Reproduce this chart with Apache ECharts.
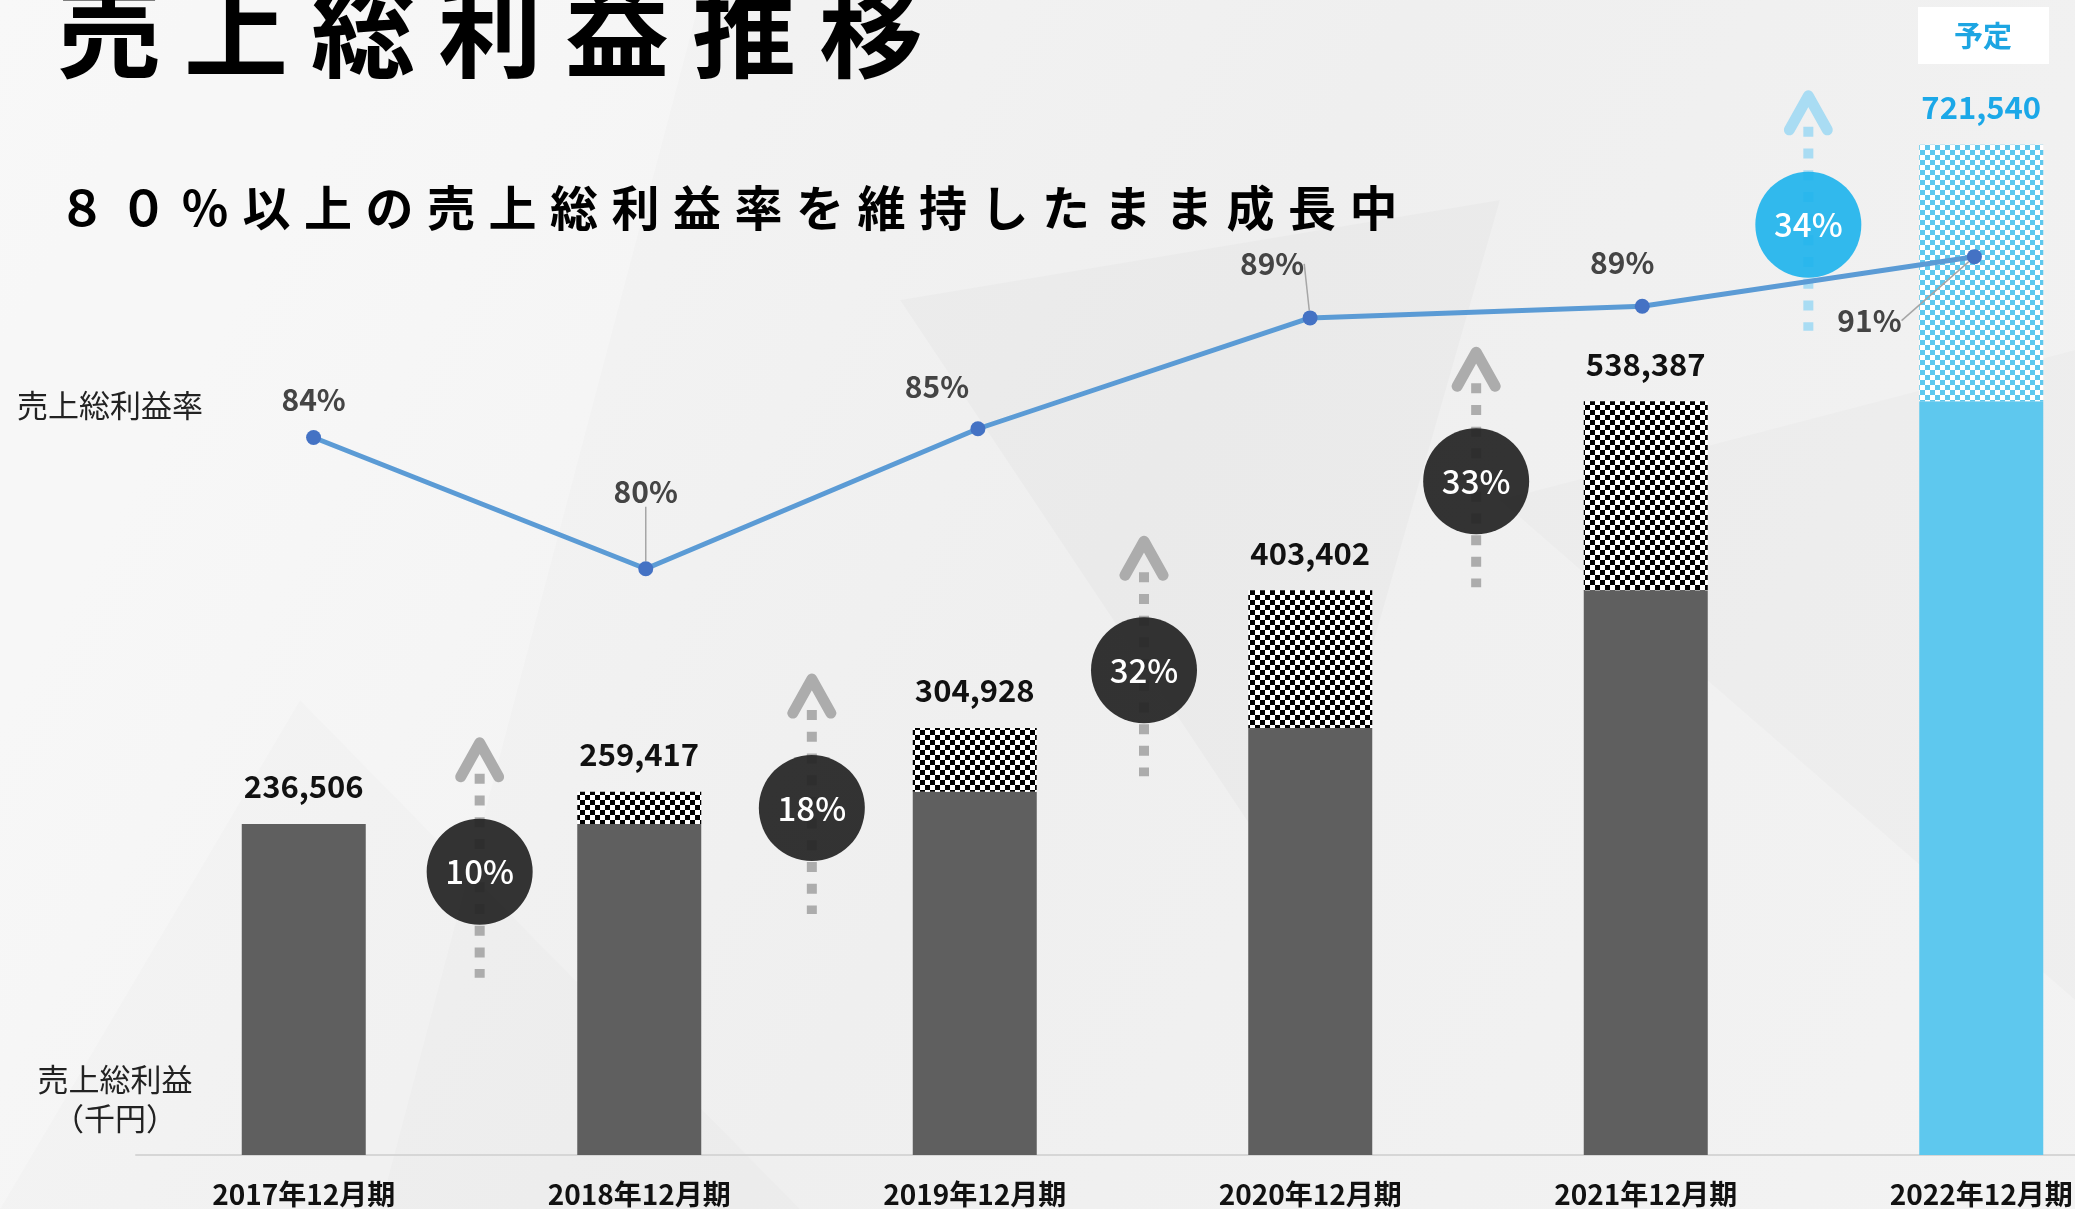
<!DOCTYPE html>
<html>
<head>
<meta charset="utf-8">
<script src="https://cdn.jsdelivr.net/npm/echarts@6/dist/echarts.min.js"></script>
<style>
  html, body { margin: 0; padding: 0; background: #f1f1f1; overflow: hidden; }
  /* 最終年度の棒が右端で切れるので、描画領域を画面より少し広く取る */
  #chart { width: 2150px; height: 1209px; }
</style>
</head>
<body>
<div id="chart"></div>
<script>
// データ
var periods = ['2017年12月期', '2018年12月期', '2019年12月期', '2020年12月期', '2021年12月期', '2022年12月期'];
var grossProfit = [236506, 259417, 304928, 403402, 538387, 721540]; // 売上総利益（千円）
var grossMargin = [84.4, 79.9, 84.7, 88.5, 88.9, 90.6];             // 売上総利益率（%）
var isForecast = [false, false, false, false, false, true];          // 予定

var FONT = '"Noto Sans CJK JP", "Noto Sans", sans-serif';

// 前年分（ベタ）と増加分（チェック柄）に分ける
var baseVals = grossProfit.map(function (v, i) { return i === 0 ? v : grossProfit[i - 1]; });
var incVals = grossProfit.map(function (v, i) { return v - baseVals[i]; });
// 前年比成長率
var growth = grossProfit.slice(1).map(function (v, i) {
    return Math.round((v / grossProfit[i] - 1) * 100);
});

function checker(c1, c2, cell) {
    var cv = document.createElement('canvas');
    cv.width = cv.height = cell * 2;
    var ctx = cv.getContext('2d');
    ctx.fillStyle = c2;
    ctx.fillRect(0, 0, cell * 2, cell * 2);
    ctx.fillStyle = c1;
    ctx.fillRect(0, 0, cell, cell);
    ctx.fillRect(cell, cell, cell, cell);
    return { image: cv, repeat: 'repeat' };
}
var blackChecker = checker('#000000', '#ffffff', 5);
var blueChecker = checker('#5ec8ee', '#ffffff', 5);

var myChart = echarts.init(document.getElementById('chart'));

// タイトル類
var graphics = [
    { type: 'polygon', z: -10, shape: { points: [[0, 0], [700, 0], [380, 1209], [0, 1209]] }, style: { fill: 'rgba(255,255,255,0.25)' } },
    { type: 'polygon', z: -10, shape: { points: [[900, 300], [1500, 200], [1300, 900]] }, style: { fill: 'rgba(0,0,0,0.018)' } },
    { type: 'polygon', z: -10, shape: { points: [[1500, 500], [2075, 350], [2075, 1000]] }, style: { fill: 'rgba(0,0,0,0.015)' } },
    { type: 'polygon', z: -10, shape: { points: [[300, 700], [800, 1209], [0, 1209]] }, style: { fill: 'rgba(0,0,0,0.012)' } }
];
var title = '売上総利益推移';
for (var i = 0; i < title.length; i++) {
    graphics.push({
        type: 'text', z: 10,
        style: { text: title[i], x: 109 + i * 127, y: 30, align: 'center', verticalAlign: 'middle',
                 font: 'bold 104px ' + FONT, fill: '#000' }
    });
}
var sub = '８０％以上の売上総利益率を維持したまま成長中';
for (var j = 0; j < sub.length; j++) {
    graphics.push({
        type: 'text', z: 10,
        style: { text: sub[j], x: 82 + j * 61.5, y: 208, align: 'center', verticalAlign: 'middle',
                 font: 'bold 48px ' + FONT, fill: '#000' }
    });
}
graphics.push(
    { type: 'text', z: 10, style: { text: '売上総利益率', x: 110, y: 405, align: 'center', verticalAlign: 'middle', font: '31px ' + FONT, fill: '#222' } },
    { type: 'text', z: 10, style: { text: '売上総利益', x: 115, y: 1079, align: 'center', verticalAlign: 'middle', font: '31px ' + FONT, fill: '#222' } },
    { type: 'text', z: 10, style: { text: '（千円）', x: 115, y: 1118, align: 'center', verticalAlign: 'middle', font: '31px ' + FONT, fill: '#222' } },
    { type: 'rect', z: 10, shape: { x: 1918, y: 7, width: 131, height: 57 }, style: { fill: '#ffffff' } },
    { type: 'text', z: 11, style: { text: '予定', x: 1983, y: 36, align: 'center', verticalAlign: 'middle', font: 'bold 29px ' + FONT, fill: '#1da5e2' } }
);

// 各ラベルの位置調整（点からのずれ）
var marginLabelOffset = [[0, -38], [0, -77], [-41, -42], [-38, -54], [-20, -44], [-105, 64]];
var marginLeader = [false, true, false, true, false, true];

var option = {
    backgroundColor: {
        type: 'linear', x: 0, y: 0, x2: 1, y2: 1,
        colorStops: [{ offset: 0, color: '#f6f6f6' }, { offset: 0.5, color: '#efefef' }, { offset: 1, color: '#f3f3f3' }]
    },
    animation: false,
    graphic: graphics,
    grid: [
        { left: 136, top: 105, bottom: 54, right: 1 },
        { left: 147.5, top: 105, bottom: 54, right: 9.5 }
    ],
    xAxis: [
        {
            type: 'category', gridIndex: 0, data: periods,
            axisLine: { lineStyle: { color: '#d6d6d6', width: 2 } },
            axisTick: { show: false },
            axisLabel: { margin: 25, fontSize: 28, fontWeight: 'bold', color: '#111', fontFamily: FONT }
        },
        { type: 'category', gridIndex: 1, data: periods, show: false }
    ],
    yAxis: [
        { type: 'value', gridIndex: 0, min: 0, max: 750000, show: false, splitLine: { show: false } },
        { type: 'value', gridIndex: 1, min: 59.8, max: 95.8, show: false, splitLine: { show: false } },
        { type: 'value', gridIndex: 1, min: 0, max: 750000, show: false, splitLine: { show: false } }
    ],
    series: [
        {
            name: '前年分',
            type: 'bar', xAxisIndex: 0, yAxisIndex: 0, stack: 'gp', barWidth: 124,
            data: baseVals.map(function (v, i) {
                return { value: v, itemStyle: { color: isForecast[i] ? '#5ec8ee' : '#5f5f5f' } };
            })
        },
        {
            name: '売上総利益',
            type: 'bar', xAxisIndex: 0, yAxisIndex: 0, stack: 'gp', barWidth: 124,
            data: incVals.map(function (v, i) {
                return {
                    value: v,
                    itemStyle: { color: isForecast[i] ? blueChecker : blackChecker },
                    label: { color: isForecast[i] ? '#1ba8e8' : '#111' }
                };
            }),
            label: {
                show: true, position: 'top', distance: 22,
                fontSize: 31, fontWeight: 'bold', fontFamily: FONT,
                formatter: function (p) { return grossProfit[p.dataIndex].toLocaleString('en-US'); }
            }
        },
        {
            name: '成長率',
            type: 'custom', xAxisIndex: 1, yAxisIndex: 2, clip: false, z: 5,
            data: growth.map(function (g, i) { return [i, grossProfit[i + 1], g]; }),
            renderItem: function (params, api) {
                var i = api.value(0);
                var p = api.coord([i, api.value(1)]);
                var bw = api.size([1, 0])[0];
                var cx = p[0] + bw / 2, cy = p[1] + 80;
                var fc = isForecast[i + 1];
                var arrowC = fc ? '#a9dcf3' : '#acacac';
                var circC = fc ? 'rgba(28,178,236,0.9)' : 'rgba(38,38,38,0.94)';
                return {
                    type: 'group',
                    children: [
                        { type: 'line', shape: { x1: cx, y1: cy - 98, x2: cx, y2: cy + 106 },
                          style: { stroke: arrowC, lineWidth: 10, lineDash: [10, 11.7] } },
                        { type: 'polyline', shape: { points: [[cx - 19, cy - 95], [cx, cy - 129], [cx + 19, cy - 95]] },
                          style: { stroke: arrowC, lineWidth: 11, lineCap: 'round', lineJoin: 'round', fill: null } },
                        { type: 'circle', shape: { cx: cx, cy: cy, r: 53 }, style: { fill: circC } },
                        { type: 'text', style: { text: api.value(2) + '%', x: cx, y: cy, align: 'center', verticalAlign: 'middle',
                          fill: '#fff', font: '500 33px ' + FONT } }
                    ]
                };
            }
        },
        {
            name: '売上総利益率',
            type: 'line', xAxisIndex: 1, yAxisIndex: 1, z: 10,
            symbol: 'circle', symbolSize: 15,
            itemStyle: { color: '#4472c4' },
            lineStyle: { color: '#5b9bd5', width: 5 },
            data: grossMargin.map(function (v, i) {
                return { value: v, labelLine: { show: marginLeader[i] } };
            }),
            label: {
                show: true, position: 'inside',
                fontSize: 30, fontWeight: 'bold', color: '#444', fontFamily: FONT,
                formatter: function (p) { return Math.round(p.value) + '%'; }
            },
            labelLine: { show: true, lineStyle: { color: '#a6a6a6', width: 1.5 } },
            labelLayout: function (p) {
                var o = marginLabelOffset[p.dataIndex];
                return { dx: o[0], dy: o[1] };
            }
        }
    ]
};
myChart.setOption(option);
</script>
</body>
</html>
